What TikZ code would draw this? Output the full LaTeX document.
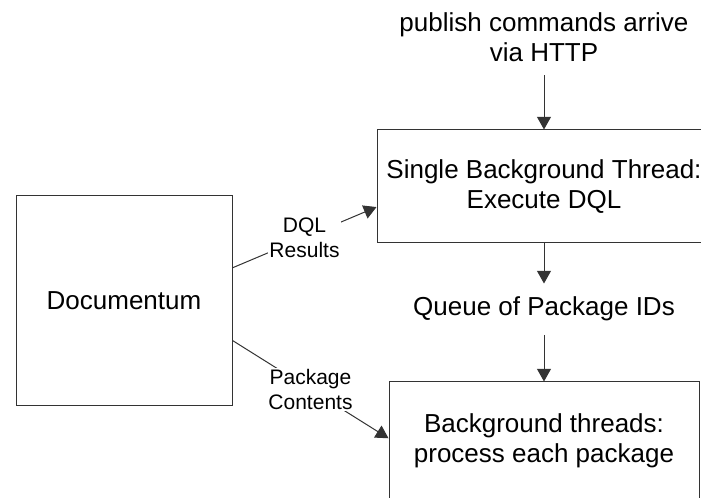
\documentclass[tikz,border=0pt]{standalone}
\usepackage{fontspec}
\setmainfont{Liberation Sans}
\usetikzlibrary{positioning}
\usetikzlibrary{arrows.meta}

\begin{document}
\begin{tikzpicture}
	[x=0.75pt,y=-0.75pt,
	stage/.style={rectangle, draw=black!80, line width=0.75pt, align=center, font=\fontsize{19.5}{22.5}\selectfont},
	note/.style={align=center, inner sep=10pt, font=\fontsize{19.5}{22.5}\selectfont},
	tag/.style={align=center, fill=white, inner sep=1pt, font=\fontsize{15.75}{18.75}\selectfont},
	flow/.style={-{Triangle[length=9.5pt,width=10.5pt]}, draw=black!80, line width=0.75pt}]

\useasboundingbox (0,0) rectangle (701,498);
\clip (0,0) rectangle (701,498);

\node [stage, minimum width=162pt, minimum height=157.5pt] (docu) at (124,301) {Documentum};
\node [stage, minimum width=250.5pt, minimum height=84.75pt] (exec) at (544,186.5) {Single Background Thread:\\Execute DQL};
\node [stage, minimum width=232.5pt, minimum height=88.5pt] (proc) at (544,441) {Background threads:\\process each package};
\node [note, above=40.5pt of exec] (http) {publish commands arrive\\via HTTP};
\node [note, below=30pt of exec] (queue) {Queue of Package IDs};

\draw [flow] (http) -- (exec);
\draw [flow] (exec) -- (queue);
\draw [flow] (queue) -- (proc);
\draw [flow] (docu.17.5) -- node [tag] {DQL\\Results} (exec.187.5);
\draw [flow] (docu.-20) -- node [tag] {Package\\Contents} (proc.179);

\end{tikzpicture}
\end{document}
